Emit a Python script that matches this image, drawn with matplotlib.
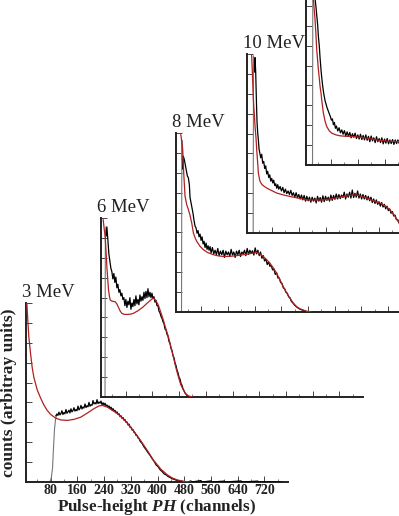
import numpy as np
import matplotlib
matplotlib.use("Agg")
import matplotlib.pyplot as plt
from matplotlib.ticker import MultipleLocator

plt.rcParams["font.family"] = "serif"
plt.rcParams["font.serif"] = ["Liberation Serif", "DejaVu Serif"]
plt.rcParams["mathtext.fontset"] = "custom"
plt.rcParams["mathtext.it"] = "Liberation Serif:italic:bold"
plt.rcParams["mathtext.rm"] = "Liberation Serif:bold"

labels = ["3 MeV", "6 MeV", "8 MeV", "10 MeV", None]

# simulated response functions (red), [channel, counts]
sim_3 = [[9, 1.0], [12, 0.90], [15, 0.81], [20, 0.72], [25, 0.64], [30, 0.585], [40, 0.515],
         [50, 0.47], [60, 0.43], [70, 0.40], [80, 0.378], [95, 0.357], [110, 0.347], [130, 0.344],
         [150, 0.35], [170, 0.362], [190, 0.385], [210, 0.41], [225, 0.425], [235, 0.428],
         [250, 0.418], [265, 0.40], [280, 0.383], [295, 0.357], [310, 0.328], [330, 0.282],
         [349, 0.233], [370, 0.175], [388, 0.122], [410, 0.072], [430, 0.039], [445, 0.022],
         [460, 0.011], [480, 0.003], [500, 0.0]]
sim_6 = [[13, 0.99], [16, 0.94], [19, 0.896], [22, 0.80], [24, 0.728], [27, 0.65], [29, 0.598],
         [32, 0.56], [34, 0.542], [40, 0.535], [49, 0.532], [54, 0.52], [58, 0.504], [64, 0.48],
         [69, 0.467], [76, 0.462], [84, 0.461], [95, 0.463], [103, 0.467], [118, 0.483],
         [133, 0.504], [145, 0.525], [153, 0.538], [160, 0.549], [165, 0.551], [170, 0.54],
         [178, 0.514], [186, 0.47], [193, 0.43], [200, 0.385], [208, 0.337], [215, 0.285],
         [223, 0.225], [230, 0.168], [238, 0.113], [245, 0.07], [253, 0.039], [260, 0.018],
         [268, 0.006], [280, 0.0]]
sim_8 = [[19, 0.99], [20, 0.985], [23, 0.94], [25, 0.91], [28, 0.78], [32, 0.648], [37, 0.60],
         [42, 0.573], [47, 0.54], [52, 0.498], [57, 0.442], [62, 0.415], [67, 0.395], [77, 0.367],
         [87, 0.348], [100, 0.332], [117, 0.32], [130, 0.314], [147, 0.31], [167, 0.311],
         [187, 0.315], [207, 0.32], [227, 0.326], [240, 0.331], [247, 0.333], [256, 0.325],
         [266, 0.31], [276, 0.293], [286, 0.273], [296, 0.247], [306, 0.217], [316, 0.18],
         [326, 0.142], [336, 0.107], [346, 0.077], [356, 0.05], [366, 0.03], [376, 0.018],
         [386, 0.011], [396, 0.004], [410, 0.0]]
sim_10 = [[18, 1.0], [19, 0.99], [21, 0.90], [24, 0.747], [27, 0.66], [29, 0.597], [32, 0.53],
          [34, 0.466], [37, 0.39], [39, 0.335], [42, 0.305], [44, 0.288], [50, 0.27], [57, 0.26],
          [64, 0.251], [80, 0.236], [94, 0.223], [115, 0.212], [134, 0.204], [160, 0.194],
          [184, 0.185], [210, 0.184], [233, 0.185], [260, 0.192], [283, 0.2], [305, 0.208],
          [323, 0.213], [340, 0.21], [363, 0.195], [383, 0.18], [403, 0.167], [420, 0.15],
          [433, 0.129], [446, 0.098], [458, 0.063], [475, 0.035], [495, 0.015], [520, 0.0]]
sim_12 = [[25, 1.0], [27, 0.927], [30, 0.86], [32, 0.815], [35, 0.72], [37, 0.646], [40, 0.58],
          [42, 0.534], [45, 0.48], [47, 0.44], [50, 0.40], [52, 0.365], [55, 0.32], [57, 0.29],
          [62, 0.245], [67, 0.215], [75, 0.19], [82, 0.178], [95, 0.168], [107, 0.163],
          [127, 0.16], [147, 0.159], [167, 0.155], [187, 0.15], [207, 0.143], [227, 0.137],
          [252, 0.133], [277, 0.131], [300, 0.13]]

# measured spectra (black), [channel, counts]
exp_3 = [[96, 0.37], [99, 0.38], [102, 0.372], [105, 0.39], [108, 0.375], [111, 0.382],
         [114, 0.398], [117, 0.377], [120, 0.388], [123, 0.381], [126, 0.405], [129, 0.384],
         [132, 0.392], [135, 0.401], [138, 0.386], [141, 0.409], [144, 0.392], [147, 0.399],
         [150, 0.415], [153, 0.396], [156, 0.405], [159, 0.398], [162, 0.424], [165, 0.403],
         [168, 0.41], [171, 0.428], [174, 0.408], [177, 0.419], [180, 0.413], [183, 0.436],
         [186, 0.416], [189, 0.426], [192, 0.42], [195, 0.445], [198, 0.423], [201, 0.432],
         [204, 0.428], [207, 0.455], [210, 0.436], [213, 0.443], [216, 0.436], [219, 0.46],
         [222, 0.438], [225, 0.447], [228, 0.44], [231, 0.452], [234, 0.432], [237, 0.443],
         [240, 0.429], [243, 0.44], [246, 0.425], [249, 0.43], [252, 0.418], [255, 0.425],
         [258, 0.41], [261, 0.418], [264, 0.402], [267, 0.41], [270, 0.396], [273, 0.4],
         [276, 0.385], [279, 0.392], [282, 0.377], [285, 0.381], [288, 0.365], [291, 0.37],
         [294, 0.355], [297, 0.36], [300, 0.345], [303, 0.348], [306, 0.333], [309, 0.335],
         [312, 0.318], [315, 0.323], [318, 0.305], [321, 0.306], [324, 0.29], [327, 0.292],
         [330, 0.276], [333, 0.274], [336, 0.26], [339, 0.26], [342, 0.245], [345, 0.242],
         [348, 0.228], [354, 0.215], [360, 0.195], [366, 0.18], [372, 0.163], [378, 0.148],
         [384, 0.13], [390, 0.115], [396, 0.095], [402, 0.085], [408, 0.068], [414, 0.058],
         [420, 0.045], [426, 0.04], [432, 0.03], [438, 0.025], [444, 0.018], [450, 0.015],
         [456, 0.01], [462, 0.008], [468, 0.005], [474, 0.004], [480, 0.002], [490, 0.0],
         [500, 0.006], [503, 0.0], [530, 0.008], [533, 0.0], [560, 0.006], [563, 0.0],
         [600, 0.005], [603, 0.0], [650, 0.006], [653, 0.0], [700, 0.005], [703, 0.0], [770, 0.0]]
exp_6 = [[22, 0.90], [24, 0.95], [27, 0.88], [30, 0.80], [33, 0.76], [36, 0.72], [39, 0.70],
         [42, 0.66], [45, 0.69], [48, 0.64], [51, 0.67], [54, 0.61], [57, 0.63], [60, 0.585],
         [63, 0.60], [66, 0.565], [69, 0.58], [72, 0.545], [75, 0.555], [78, 0.51], [81, 0.545],
         [84, 0.50], [87, 0.535], [90, 0.515], [93, 0.555], [96, 0.49], [99, 0.525], [102, 0.505],
         [105, 0.545], [108, 0.51], [111, 0.565], [114, 0.52], [117, 0.545], [120, 0.515],
         [123, 0.57], [126, 0.535], [129, 0.56], [132, 0.54], [135, 0.585], [138, 0.55],
         [141, 0.59], [144, 0.555], [147, 0.605], [150, 0.56], [153, 0.585], [156, 0.555],
         [159, 0.58], [162, 0.55], [165, 0.56], [168, 0.53], [171, 0.54], [174, 0.51],
         [177, 0.51], [180, 0.48], [183, 0.47], [186, 0.45], [189, 0.44], [192, 0.42],
         [195, 0.41], [198, 0.38], [201, 0.375], [204, 0.35], [207, 0.34], [210, 0.31],
         [213, 0.30], [216, 0.27], [219, 0.26], [222, 0.23], [225, 0.22], [228, 0.19],
         [231, 0.175], [234, 0.15], [237, 0.135], [240, 0.11], [243, 0.10], [246, 0.075],
         [249, 0.065], [252, 0.045], [255, 0.035], [258, 0.022], [261, 0.015], [264, 0.008],
         [268, 0.004], [272, 0.0]]
exp_8 = [[25, 0.80], [27, 0.87], [30, 0.85], [33, 0.82], [36, 0.79], [39, 0.76], [42, 0.75],
         [45, 0.71], [47, 0.64], [50, 0.61], [53, 0.58], [56, 0.55], [59, 0.51], [62, 0.48],
         [65, 0.47], [68, 0.44], [71, 0.455], [74, 0.42], [77, 0.435], [80, 0.40], [83, 0.42],
         [86, 0.38], [89, 0.395], [92, 0.36], [95, 0.385], [98, 0.35], [101, 0.37], [104, 0.345],
         [107, 0.365], [110, 0.33], [114, 0.36], [118, 0.325], [122, 0.345], [126, 0.32],
         [130, 0.355], [134, 0.315], [138, 0.34], [142, 0.32], [146, 0.345], [150, 0.305],
         [154, 0.34], [158, 0.32], [162, 0.335], [166, 0.31], [170, 0.35], [174, 0.318],
         [178, 0.335], [182, 0.305], [186, 0.34], [190, 0.32], [194, 0.345], [198, 0.31],
         [202, 0.335], [206, 0.325], [210, 0.345], [214, 0.315], [218, 0.355], [222, 0.322],
         [226, 0.345], [230, 0.328], [234, 0.342], [238, 0.318], [242, 0.358], [246, 0.325],
         [250, 0.345], [254, 0.315], [258, 0.335], [262, 0.30], [266, 0.315], [270, 0.285],
         [274, 0.295], [278, 0.265], [282, 0.28], [286, 0.255], [290, 0.26], [294, 0.235],
         [298, 0.24], [302, 0.21], [306, 0.22], [310, 0.19], [314, 0.19], [318, 0.165],
         [322, 0.16], [326, 0.135], [330, 0.13], [334, 0.11], [338, 0.105], [342, 0.085],
         [346, 0.08], [350, 0.06], [355, 0.05], [360, 0.038], [366, 0.028], [372, 0.02],
         [378, 0.014], [384, 0.01], [390, 0.006], [398, 0.002], [410, 0.0]]
exp_10 = [[28, 0.90], [29, 0.98], [31, 0.90], [33, 0.75], [35, 0.62], [37, 0.56], [39, 0.52],
          [41, 0.47], [43, 0.45], [46, 0.42], [49, 0.44], [52, 0.39], [55, 0.40], [58, 0.36],
          [61, 0.375], [64, 0.33], [67, 0.345], [70, 0.31], [73, 0.325], [76, 0.29], [79, 0.305],
          [82, 0.28], [85, 0.295], [88, 0.265], [91, 0.275], [94, 0.25], [97, 0.27], [100, 0.245],
          [104, 0.26], [108, 0.235], [112, 0.255], [116, 0.225], [120, 0.245], [124, 0.22],
          [128, 0.235], [132, 0.215], [136, 0.238], [140, 0.21], [144, 0.225], [148, 0.20],
          [152, 0.225], [156, 0.198], [160, 0.215], [164, 0.19], [168, 0.212], [172, 0.185],
          [176, 0.21], [180, 0.178], [184, 0.205], [188, 0.18], [192, 0.2], [196, 0.172],
          [200, 0.2], [204, 0.178], [208, 0.195], [212, 0.168], [216, 0.205], [220, 0.178],
          [224, 0.198], [228, 0.172], [232, 0.208], [236, 0.175], [240, 0.205], [244, 0.182],
          [248, 0.2], [252, 0.178], [256, 0.212], [260, 0.182], [264, 0.21], [268, 0.188],
          [272, 0.218], [276, 0.19], [280, 0.215], [284, 0.192], [288, 0.212], [292, 0.198],
          [296, 0.228], [300, 0.19], [304, 0.218], [308, 0.2], [312, 0.228], [316, 0.195],
          [320, 0.24], [324, 0.198], [328, 0.222], [332, 0.2], [336, 0.235], [340, 0.195],
          [344, 0.218], [348, 0.19], [352, 0.215], [356, 0.19], [360, 0.21], [364, 0.185],
          [368, 0.205], [372, 0.18], [376, 0.20], [380, 0.17], [384, 0.19], [388, 0.165],
          [392, 0.185], [396, 0.16], [400, 0.175], [404, 0.15], [408, 0.17], [412, 0.145],
          [416, 0.16], [420, 0.135], [424, 0.15], [428, 0.125], [432, 0.135], [436, 0.11],
          [440, 0.12], [444, 0.095], [448, 0.10], [452, 0.075], [456, 0.075], [460, 0.055],
          [470, 0.04], [480, 0.03], [495, 0.015], [510, 0.005], [525, 0.0]]
exp_12 = [[30, 1.05], [32, 0.93], [35, 0.88], [37, 0.84], [40, 0.78], [42, 0.72], [45, 0.66],
          [47, 0.60], [50, 0.53], [52, 0.49], [55, 0.44], [58, 0.40], [62, 0.36], [65, 0.34],
          [68, 0.32], [72, 0.30], [75, 0.285], [78, 0.27], [81, 0.25], [84, 0.258], [87, 0.225],
          [90, 0.238], [93, 0.205], [96, 0.218], [100, 0.19], [104, 0.208], [108, 0.18],
          [112, 0.196], [116, 0.172], [120, 0.192], [124, 0.162], [128, 0.185], [132, 0.16],
          [136, 0.182], [140, 0.152], [144, 0.175], [148, 0.155], [152, 0.178], [156, 0.148],
          [160, 0.168], [164, 0.145], [168, 0.172], [172, 0.142], [176, 0.165], [180, 0.14],
          [184, 0.168], [188, 0.138], [192, 0.16], [196, 0.13], [200, 0.162], [204, 0.135],
          [208, 0.152], [212, 0.125], [216, 0.158], [220, 0.13], [224, 0.148], [228, 0.125],
          [232, 0.152], [236, 0.118], [240, 0.145], [244, 0.122], [248, 0.148], [252, 0.118],
          [256, 0.14], [260, 0.12], [264, 0.142], [268, 0.115], [272, 0.14], [276, 0.12],
          [280, 0.14], [284, 0.12], [288, 0.135]]

# low-channel threshold part of the measured spectra (grey)
thr_3 = [[5, 0.0], [5, 0.06], [7, 0.06], [7, 0.0], [78, 0.0], [82, 0.02], [86, 0.08],
         [89, 0.2], [92, 0.3], [95, 0.35], [97, 0.37]]
thr_6 = [[18.5, 0.0], [19.5, 0.9], [21, 0.95]]
thr_8 = [[21.5, 0.0], [22.5, 0.96], [25, 0.80]]
thr_10 = [[23.5, 0.0], [24.5, 0.99], [28, 0.90]]
thr_12 = [[24.5, 0.0], [25.5, 1.1]]

sims = [sim_3, sim_6, sim_8, sim_10, sim_12]
exps = [exp_3, exp_6, exp_8, exp_10, exp_12]
thrs = [thr_3, thr_6, thr_8, thr_10, thr_12]

# panel layout (pixels): left spine x and bottom spine y of each stacked panel
W, H = 399, 516
spine_x = [25.5, 100.5, 176, 247, 306]
base_y = [482, 397, 312, 233, 165]
pw, ph = 262, 179

fig = plt.figure(figsize=(W / 100, H / 100), dpi=100)

for i in range(5):
    ax = fig.add_axes([spine_x[i] / W, (H - base_y[i]) / H, pw / W, ph / H])
    ax.set_facecolor("none")

    t = np.array(thrs[i])
    e = np.array(exps[i])
    s = np.array(sims[i])
    ax.plot(t[:, 0], t[:, 1], color="#777777", lw=0.8, zorder=2)
    ax.plot(e[:, 0], e[:, 1], color="black", lw=0.9, zorder=3)
    ax.plot(s[:, 0], s[:, 1], color="#b02020", lw=0.9, zorder=4)

    ax.set_xlim(5, 789)
    ax.set_ylim(0, 1)
    for side in ["top", "right"]:
        ax.spines[side].set_visible(False)
    for side in ["left", "bottom"]:
        ax.spines[side].set_linewidth(1.4)
        ax.spines[side].set_color("#222222")

    ax.xaxis.set_major_locator(MultipleLocator(80))
    ax.xaxis.set_minor_locator(MultipleLocator(40))
    ax.set_yticks(np.linspace(0, 1, 10))
    ax.tick_params(which="major", direction="in", length=4, width=0.7, color="#444444", pad=1.5)
    ax.tick_params(which="minor", direction="in", length=2, width=0.6, color="#666666")
    ax.tick_params(axis="y", labelleft=False)

    if i == 0:
        for lab in ax.get_xticklabels():
            lab.set_fontweight("bold")
            lab.set_fontsize(10)
            lab.set_color("#222222")
        ax.set_xlabel(r"Pulse-height $PH$ (channels)", fontsize=12.3, fontweight="bold",
                      color="#222222")
        ax.xaxis.set_label_coords(0.5, -0.082)
        ax.set_ylabel("counts (arbitray units)", fontsize=12.6, fontweight="bold",
                      color="#222222")
        ax.yaxis.set_label_coords(-0.032, 0.5)
    else:
        ax.tick_params(axis="x", labelbottom=False)

    if labels[i]:
        ax.text(-0.015, 1.035, labels[i], transform=ax.transAxes, fontsize=13.5,
                va="baseline", ha="left", color="#222222")

plt.savefig("out.png", dpi=100)
